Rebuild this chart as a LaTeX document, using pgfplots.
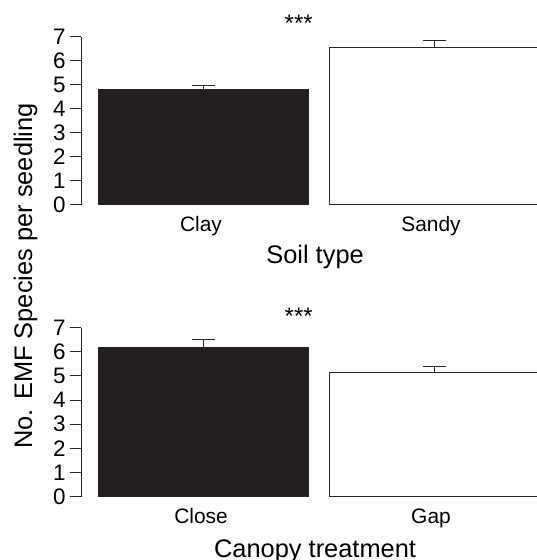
\documentclass[border=0pt]{standalone}
\usepackage{pgfplots}
\pgfplotsset{compat=1.18}
\usepackage{fontspec}
\setmainfont{Liberation Sans}
\definecolor{barblack}{HTML}{231F20}
\definecolor{linegray}{HTML}{262626}

\begin{document}
\begin{tikzpicture}
\useasboundingbox (0bp,0bp) rectangle (537bp,-560bp);
\pgfplotsset{
 emf/.style={
  scale only axis, width=455.7bp,
  xmin=81.3, xmax=537, ymin=0, ymax=7,
  clip=false,
  axis lines*=left,
  x axis line style={draw=none},
  y axis line style={line width=1bp, color=linegray},
  ytick={0,...,7},
  tick align=outside,
  major tick length=11.5bp,
  ytick style={line width=1bp, color=linegray},
  xtick style={draw=none},
  tick label style={font=\fontsize{21}{25}\selectfont},
  yticklabel style={font=\fontsize{22.5}{26}\selectfont},
  /pgf/number format/assume math mode=true,
  yticklabel style={inner sep=0pt, anchor=east, xshift=-4bp},
  xticklabel style={inner sep=0pt, anchor=north},
  ybar, bar width=210.4, bar shift=0pt,
  error bars/y dir=plus, error bars/y explicit,
  error bars/error mark options={rotate=90, mark size=11.5bp, line width=1bp, color=linegray},
  error bars/error bar style={line width=1bp, color=linegray},
  xlabel style={font=\fontsize{25.5}{30}\selectfont, anchor=north, inner sep=0pt},
 }
}
% Top panel: soil type
\begin{axis}[emf, height=168bp,
  at={(81.3bp,-204.7bp)}, anchor=south west,
  xtick={201,431}, xticklabels={Clay,Sandy},
  title={***}, title style={at={(axis description cs:0.477,1.045)}, anchor=center, inner sep=0pt, font=\fontsize{24}{28}\selectfont},
  xlabel={Soil type}, xlabel style={at={(axis description cs:0.513,-0.24)}},
]
\addplot[fill=barblack, draw=barblack, line width=1bp] coordinates {(203.5,4.78) +- (0,0.18)};
\addplot[fill=white, draw=linegray, line width=1.2bp] coordinates {(434.4,6.56) +- (0,0.27)};
\end{axis}
% Bottom panel: canopy treatment
\begin{axis}[emf, height=169bp,
  at={(81.3bp,-496.7bp)}, anchor=south west,
  xtick={201,431}, xticklabels={Close,Gap},
  title={***}, title style={at={(axis description cs:0.477,1.032)}, anchor=center, inner sep=0pt, font=\fontsize{24}{28}\selectfont},
  xlabel={Canopy treatment}, xlabel style={at={(axis description cs:0.513,-0.252)}},
]
\addplot[fill=barblack, draw=barblack, line width=1bp] coordinates {(203.7,6.19) +- (0,0.34)};
\addplot[fill=white, draw=linegray, line width=1.2bp] coordinates {(434.4,5.15) +- (0,0.23)};
\end{axis}
\node[rotate=90, anchor=base, inner sep=0pt, font=\fontsize{25.5}{30}\selectfont] at (32bp,-276bp) {No. EMF Species per seedling};
\end{tikzpicture}
\end{document}
